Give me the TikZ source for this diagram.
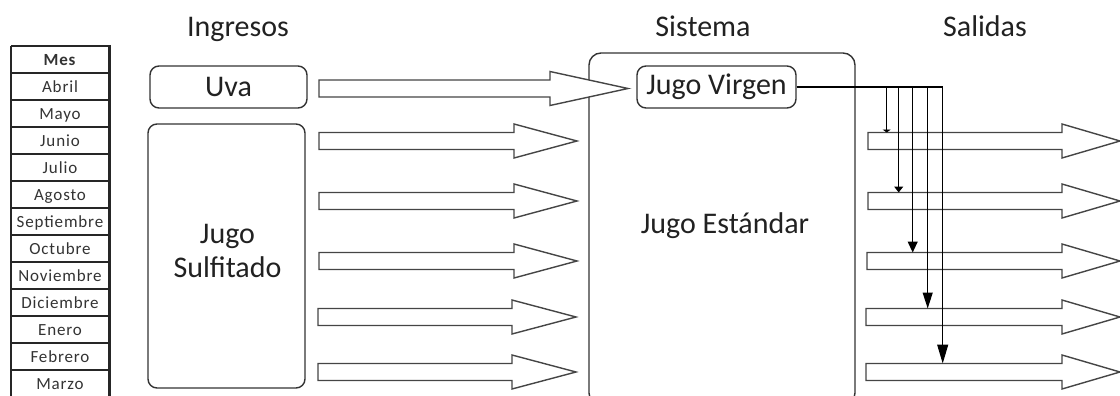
\documentclass[tikz,border=0pt]{standalone}
\usepackage{fontspec}
\setmainfont{Carlito}
\usetikzlibrary{arrows.meta}
\definecolor{boxgray}{gray}{0.2}
\definecolor{arrgray}{gray}{0.27}
\definecolor{txt}{gray}{0.13}

% hollow block arrow: name, x of tail, x where the head starts, x of tip, y of axis
\newcommand\blockarrow[5]{%
  \draw[blk] (#2,#5-8.5) -- (#3,#5-8.5) -- (#3,#5-17) -- (#4,#5)
    -- (#3,#5+17) -- (#3,#5+8.5) -- (#2,#5+8.5) -- cycle;
  \coordinate (#1) at (#2,#5-8.5);}

\begin{document}
\begin{tikzpicture}[x=1pt,y=-1pt,
  box/.style={draw=boxgray, line width=1.4pt, rounded corners=9pt, inner sep=0pt},
  blk/.style={draw=arrgray, line width=1.4pt, fill=white, line join=miter},
  big/.style={font=\fontsize{30}{34}\selectfont, text=txt, inner sep=0pt},
  head/.style={big, anchor=base},
  cell/.style={font=\fontsize{17}{20}\selectfont\addfontfeature{LetterSpace=5},
    text=black!80, anchor=base, inner sep=0pt},
  grid/.style={draw=black!85, line width=1.1pt},
  feed/.style={draw=black, line width=1.1pt}]

\useasboundingbox (0,0) rectangle (1120,396);

% column headings
\node[head] (hin)  at (238,37) {Ingresos};
\node[head] (hsis) at (703,37) {Sistema};
\node[head] (hout) at (985,37) {Salidas};

% month table
\foreach \k in {0,...,13} {\draw[grid] (11,46+27*\k) -- (109,46+27*\k);}
\draw[grid] (11,46) -- (11,397);
\draw[draw=black!85, line width=3pt] (109,45) -- (109,397);
\node[cell] (m0) at (60,65.5) {\textbf{Mes}};
\foreach \t [count=\i] in {Abril,Mayo,Junio,Julio,Agosto,Septiembre,Octubre,
    Noviembre,Diciembre,Enero,Febrero,Marzo}
  {\node[cell] (m\i) at (60,65.5+27*\i) {\t};}

% inputs
\node[box, big, minimum width=157pt, minimum height=42pt] (uva) at (228.5,87) {Uva};
\node[box, minimum width=157pt, minimum height=264pt] (sulf) at (226.5,256) {};
\node[big, align=center] (sulftxt) at (227.5,251.4) {Jugo\\Sulfitado};

% system
\node[box, rounded corners=12pt, minimum width=266pt, minimum height=352pt] (sis) at (722,229) {};
\node[box, big, minimum width=159pt, minimum height=42pt] (jv) at (716.5,87) {Jugo Virgen};
\node[head] (est) at (725,233) {Jugo Estándar};

% input arrows
\blockarrow{inuva}{319}{550}{628}{88.5}
\blockarrow{in1}{319}{514}{577}{141}
\blockarrow{in2}{319}{514}{577}{201}
\blockarrow{in3}{319}{514}{577}{261}
\blockarrow{in4}{318}{512}{576}{317}
\blockarrow{in5}{318}{512}{576}{372}

% output arrows
\blockarrow{out1}{868}{1062}{1120}{141}
\blockarrow{out2}{868}{1062}{1120}{201}
\blockarrow{out3}{867}{1062}{1120}{261}
\blockarrow{out4}{866}{1062}{1120}{317}
\blockarrow{out5}{866}{1062}{1120}{372}

% distribution of the virgin juice
\path (jv.east) ++(90,0) coordinate (b1)
      (jv.east) ++(102,0) coordinate (b2)
      (jv.east) ++(116,0) coordinate (b3)
      (jv.east) ++(131,0) coordinate (b4)
      (jv.east) ++(146,0) coordinate (b5);
\draw[feed] (jv.east) -- (b5);
\draw[feed, -{Triangle[length=3pt,width=8pt]}]  (b1) -- (b1 |- out1);
\draw[feed, -{Triangle[length=6pt,width=9pt]}]  (b2) -- (b2 |- out2);
\draw[feed, -{Triangle[length=11pt,width=10pt]}] (b3) -- (b3 |- out3);
\draw[feed, -{Triangle[length=16pt,width=10pt]}] (b4) -- (b4 |- out4);
\draw[feed, -{Triangle[length=19pt,width=11pt]}] (b5) -- (b5 |- out5);
\end{tikzpicture}
\end{document}
